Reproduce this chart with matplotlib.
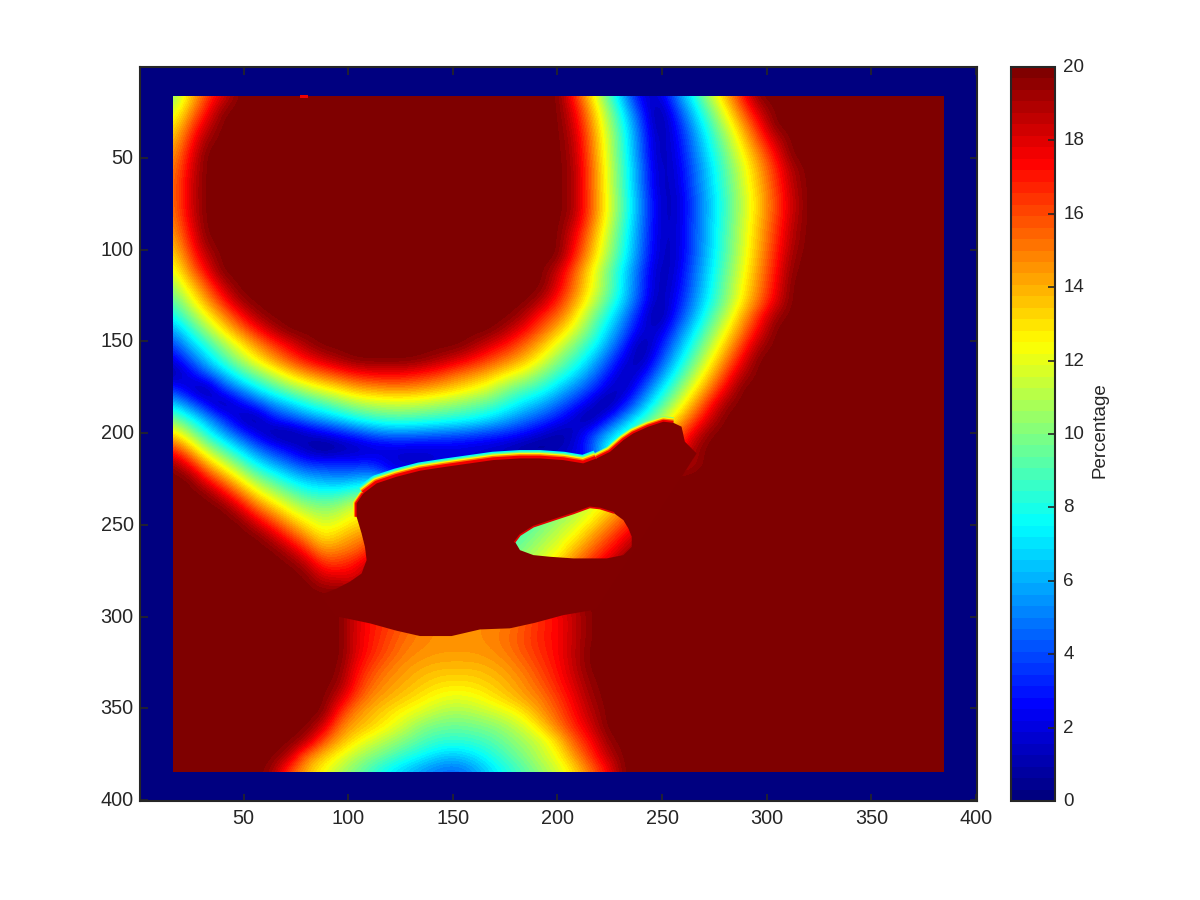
import matplotlib
matplotlib.use("Agg")
import matplotlib.pyplot as plt
from matplotlib.colors import LinearSegmentedColormap, Normalize
from matplotlib.patches import Rectangle
from matplotlib.transforms import ScaledTranslation
import numpy as np

plt.rcParams["font.family"] = ["Liberation Sans", "DejaVu Sans"]

# percentages, one row every 8 units from y=16 to y=384,
# columns every 8 units from x=16, rows are dark red (20) after their last entry
grid_step = 8
grid_first = 16
grid_last = 384
field_rows = [
    [10, 13, 16, 18] + [20] * 20 + [16.7, 13, 9.3, 5.6, 1.9, 1.5, 4.6, 7.7, 10.8, 13.8, 16.9],
    [11.2, 14.2, 16.9, 19.6] + [20] * 20 + [17.7, 14.1, 10.5, 6.8, 3.2, .4, 3.4, 6.4, 9.4, 12.5, 15.5, 18.5],
    [12.5, 15.4, 18.2] + [20] * 21 + [18.2, 14.7, 11.1, 7.6, 4, .4, 2.5, 5.5, 8.4, 11.3, 14.2, 17.1],
    [13.5, 16.4, 19.3] + [20] * 21 + [18.7, 15.1, 11.6, 8, 4.4, .9, 2.1, 4.8, 7.6, 10.3, 13.1, 15.9, 18.6],
    [14.2, 17.2] + [20] * 22 + [18.9, 15.3, 11.7, 8.1, 4.5, .9, 1.9, 4.5, 7.1, 9.7, 12.3, 14.8, 17.4],
    [14.7, 17.7] + [20] * 22 + [19.1, 15.6, 12, 8.4, 4.9, 1.3, 1.6, 4.1, 6.6, 9.1, 11.6, 14.1, 16.6, 19.1],
    [15, 18] + [20] * 22 + [19.1, 15.6, 12, 8.4, 4.9, 1.3, 1.5, 4, 6.5, 8.9, 11.4, 13.8, 16.3, 18.8],
    [15, 18] + [20] * 22 + [19.1, 15.7, 12.2, 8.7, 5.2, 1.7, 1.2, 3.7, 6.2, 8.6, 11.1, 13.5, 16, 18.5],
    [14.8, 17.9] + [20] * 22 + [19.1, 15.7, 12.2, 8.7, 5.2, 1.7, 1.2, 3.7, 6.2, 8.6, 11.1, 13.5, 16, 18.5],
    [14.4, 17.3] + [20] * 22 + [18.3, 15, 11.7, 8.3, 5, 1.7, 1.3, 3.8, 6.3, 8.8, 11.3, 13.8, 16.3, 18.8],
    [13.7, 16.6, 19.6] + [20] * 21 + [17.6, 14.4, 11.2, 8, 4.8, 1.6, 1.3, 3.8, 6.3, 8.9, 11.4, 13.9, 16.5, 19],
    [12.8, 15.7, 18.6] + [20] * 21 + [16.9, 13.8, 10.8, 7.7, 4.6, 1.5, 1.3, 3.9, 6.5, 9, 11.6, 14.2, 16.8, 19.4],
    [11.7, 14.6, 17.3] + [20] * 20 + [18.5, 15.6, 12.7, 9.8, 6.9, 4, 1.1, 1.6, 4.2, 6.8, 9.4, 11.9, 14.5, 17.1, 19.7],
    [10.4, 13.1, 15.5, 18.5] + [20] * 19 + [18, 15.2, 12.6, 10, 6.9, 3.9, 1, 1.9, 4.5, 7.1, 9.7, 12.3, 14.8, 17.4],
    [8.9, 11.6, 14.2, 16.6, 19.3] + [20] * 17 + [19, 16.8, 14.4, 11.8, 9.2, 6.5, 3.6, .8, 2.3, 4.9, 7.5, 10, 12.7, 15.2, 17.8],
    [7.6, 9.8, 12.3, 14.6, 16.9, 19.2] + [20] * 15 + [19, 17, 15.5, 13.2, 10.3, 8, 5.3, 2.5, .3, 2.9, 5.6, 8.4, 11, 13.9, 16.6, 19.3],
    [5.5, 7.9, 10.4, 12.7, 14.8, 16.9, 18.8] + [20] * 13 + [18.8, 17.4, 15.6, 13.8, 11.8, 9.5, 6.8, 4.5, 1.8, 1.4, 4.1, 6.8, 9.5, 12.2, 14.9, 17.6],
    [3.6, 6.2, 8.1, 10.4, 12.5, 14.4, 16.2, 17.7, 19.2] + [20] * 9 + [19.3, 18, 17, 15.4, 13.9, 12, 10, 8.2, 5.8, 3.3, .5, 2.4, 5.2, 7.9, 10.7, 13.4, 16.2, 19],
    [1.8, 4.1, 6.5, 8.6, 10.7, 12.6, 14.3, 15.9, 17.3, 18.4, 19.3, 20, 20, 20, 20, 19.7, 19, 18.2, 17.2, 16.1, 15, 13.9, 12.3, 10.3, 8.8, 6.6, 4.4, 2, .7, 3.5, 6.3, 9.1, 11.9, 14.7, 17.5],
    [.5, 2, 4.1, 6.1, 8.2, 9.8, 11.4, 13, 14.3, 15.3, 16.2, 17, 17.4, 17.5, 17.3, 16.8, 16.2, 15.2, 14.6, 13.7, 12.6, 11.6, 10.1, 8.7, 7, 5.2, 3.1, 1, 2.1, 4.9, 7.7, 10.5, 13.3, 16.1, 18.9],
    [3.6, 1.6, .3, 3.5, 5.3, 7.1, 8.6, 10, 11.2, 12.2, 13, 14, 14.3, 14.6, 14.6, 14.3, 13.8, 13.2, 12.4, 11.5, 10, 9.1, 8.3, 6.6, 5.2, 3.7, 1.7, 1, 3.8, 6.6, 9.3, 12.1, 14.8, 17.6],
    [6.8, 4.8, 2.6, .4, 2.2, 3.8, 5.5, 6.6, 8, 8.9, 10, 10.8, 11.3, 11.5, 11.5, 11.2, 10.8, 10.3, 9.8, 9.2, 8.2, 7, 6, 4.8, 3.4, 1.8, .2, 2.8, 5.5, 8.3, 11, 13.8, 16.6, 19.3],
    [10, 8, 5.8, 3.6, 1.2, .5, 2.9, 4, 5.1, 6, 6.9, 8, 8.6, 9, 9, 8.8, 8.5, 8.2, 7.8, 7, 6, 5, 4.1, 3, 1.5, .3, 2.9, 5.4, 7.9, 10.5, 13, 15.5, 18.1],
    [13.2, 10.8, 8.1, 5.9, 3.9, 2, .6, .3, 1.4, 2.2, 3, 3.8, 4.8, 5.2, 5.2, 5, 4.8, 4.6, 4.2, 3.8, 3.4, 2.7, 1.8, .8, 1.3, 3.5, 5.8, 8.1, 10.4, 12.8, 15.1, 17.4, 19.7],
    [16.4, 13.9, 11, 8.8, 6.7, 4.7, 3.2, 2.1, 1, 0, .6, 1, 1.5, 1.8, 1.8, 1.8, 1.8, 1.8, 1.6, 1.4, 1, .5, .3, 1, 1.8, 4, 8, 10, 12, 14, 16, 19],
    [19.6, 17, 14, 11.7, 9.5, 7.3, 5.7, 4.5, 3.2, 3.2, 3, 3, 3, 2, 1.5, 1.5, 2, 2, 2, 2, 2, 2, 2, 2, 2, 3, 8, 12, 14, 16, 18, 19],
    [20, 20, 16.9, 14.6, 12.3, 10, 8.5, 7, 6, 5.5, 5.2, 5.5, 6] + [3] * 12 + [5, 10],
    [20, 20, 19.8, 17.5, 15.1, 12.7, 11, 9.5, 8.2, 8, 8, 9, 9],
    [20, 20, 20, 20, 17.9, 15.3, 13.5, 11.8, 10.6, 10, 10.5, 12, 12],
    [20] * 5 + [18, 16, 14, 12.5, 11.5, 12, 13, 13],
    [20] * 6 + [18.5, 16.4, 14.5, 12.7, 13.5, 14.5, 15],
    [20] * 7 + [18.8, 16.8, 14.5, 15, 15.5, 17],
    [20] * 8 + [19, 16.7, 16.5, 17.5, 19],
    [20] * 9 + [18.5, 18.5, 18],
    [],
    [20] * 11 + [18, 17, 16.3, 15.5, 14.9, 14.6, 14.6, 14.6, 14.8, 15, 15.8, 16.7, 17.4, 18.6, 19.8],
    [20] * 11 + [18, 17, 16.3, 15.5, 14.9, 14.6, 14.6, 14.6, 14.8, 15, 15.8, 16.7, 17.4, 18.6, 19.8],
    [20] * 11 + [18, 16.9, 16, 15.2, 14.8, 14.6, 14.6, 14.6, 14.8, 15.3, 16, 16.8, 17.4, 18.6, 19.8],
    [20] * 11 + [18, 16.7, 15.7, 14.9, 14.6, 14.4, 14.4, 14.4, 14.6, 15, 15.8, 16.6, 17.4, 18.7, 20],
    [20] * 10 + [19.8, 17.4, 16, 15, 14.4, 14, 13.8, 13.8, 13.8, 14, 14.5, 15.2, 16.2, 17.2, 18.6, 19.9],
    [20] * 10 + [19.5, 16.9, 15.3, 14.5, 14, 13.5, 13.1, 13, 13.1, 13.5, 14, 14.7, 15.7, 16.9, 18.2, 19.6],
    [20] * 10 + [18.4, 16, 14.6, 14, 13.4, 12.8, 12.2, 12, 12.2, 12.8, 13.5, 14.3, 15, 16.3, 17.7, 19.3],
    [20] * 10 + [16.6, 14.6, 13.8, 13, 12.3, 11.7, 11, 10.7, 11, 11.5, 12, 13, 14.4, 15.7, 17.3, 18.8],
    [20] * 9 + [18.3, 15, 14, 13.2, 12.3, 11.2, 10, 9.6, 9.5, 9.7, 10, 10.7, 11.6, 13.2, 15, 16.7, 18.3],
    [20] * 8 + [18.9, 15.7, 14, 12.6, 11.5, 10.6, 9.8, 9, 8.4, 8.3, 8.5, 9, 9.8, 10.7, 11.4, 13.2, 15.6, 17.2, 19.5],
    [20] * 7 + [18.8, 15, 13.6, 12.2, 11, 10, 9.2, 8.2, 7.4, 6.6, 6.4, 7, 8, 9, 10, 11.3, 12.3, 14.5, 16.5, 18.6],
    [20] * 6 + [19.3, 16, 13.9, 12.3, 10.9, 9.7, 8.4, 7.2, 6.3, 5.4, 4.7, 4.5, 5.4, 6.8, 8, 9.1, 10.3, 11.5, 13, 15.2, 17.3],
]

# outline of the dark red land, upper shore from the notch round to the left
coast_x = [266.5, 260.9, 259.3, 255.4, 250.6, 243.4, 236.2, 231.5, 225.1, 218.7, 212.3, 202.8, 191.6, 182.1, 169.3,
           158.2, 147, 134.3, 123.1, 113.6, 107.2, 104, 104, 106.4, 108, 108.8, 106.4, 100.8, 94.5, 86.5]
coast_y = [211.1, 204.7, 196.5, 194.4, 193.8, 196.5, 200.2, 203.8, 210.2, 213.8, 216.5, 214.7, 213.8, 213.8, 214.7,
           216.5, 218.3, 220.5, 223.8, 227.4, 232.9, 238.3, 245.6, 254.7, 262, 269.2, 276.5, 281, 284.7, 288.3]
# lower shore, left to right
shore_x = [93.7, 110.4, 123.1, 134.3, 149.4, 163, 177.3, 189.2, 202.8, 218.7]
shore_y = [299.7, 303.7, 307.7, 310.6, 310.6, 307, 306.4, 303.4, 299.2, 296.1]

# the lens inside the land
lens_x = [179.7, 182.1, 188.5, 198, 207.6, 215.5, 220.3, 226.7, 231.5, 233.9, 235.5, 235.5, 231.5, 223.5, 207.6, 196.4, 188.5, 182.1]
lens_y = [259.2, 255.6, 251, 247.4, 243.8, 240.5, 241.1, 243.4, 247.4, 252, 256.5, 262, 266.5, 268.3, 268.3, 267.4, 266.5, 263.8]
lens_columns = [176, 184, 192, 200, 208, 216, 224, 232, 240]
lens_lines = [240, 248, 256, 264, 272]
lens_values = [
    [6.8, 7.7, 8.7, 9.7, 10.7, 11.7, 13, 14.7, 16.3],
    [7.6, 8.6, 9.6, 10.5, 11.5, 12.8, 14.4, 16, 17.6],
    [8.4, 9.4, 10.4, 11.4, 12.6, 14.2, 15.8, 17.4, 19],
    [9.2, 10.2, 11.2, 12.3, 13.9, 15.5, 17.1, 18.7, 20],
    [10, 11, 12, 13.6, 15.3, 16.9, 18.5, 20, 20],
]

# rim colours along the shore, outermost first
rim_values = [7.5, 9.5, 12.5, 15, 17.5]
rim_widths = [12, 10, 8, 6, 4]
thin_rim_values = [10, 12.5, 15, 17.5]
thin_rim_widths = [8, 6.5, 4.6, 2.8]
west_rim_values = [12.5, 15, 17.5]
west_rim_widths = [5, 3.6, 2.2]

# little red speck at the top edge
speck_x = [77, 81]
speck_y = [16, 17.2]
speck_value = 17.5

x_ticks = [50, 100, 150, 200, 250, 300, 350, 400]
y_ticks = [50, 100, 150, 200, 250, 300, 350, 400]
bar_ticks = [0, 2, 4, 6, 8, 10, 12, 14, 16, 18, 20]

# jet as MATLAB builds it, 64 steps
jet_stops = [0, 1 / 8, 3 / 8, 5 / 8, 7 / 8, 1]
jet_colors = [(0, 0, .5), (0, 0, 1), (0, 1, 1), (1, 1, 0), (1, 0, 0), (.5, 0, 0)]

ink = "#262626"
cmap = LinearSegmentedColormap.from_list("matlab_jet", list(zip(jet_stops, jet_colors)), N=64)
norm = Normalize(0, 20)

n_cols = (grid_last - grid_first) // grid_step + 1
field = np.array([r + [20] * (n_cols - len(r)) for r in field_rows], dtype=float)
half = grid_step / 2

fig = plt.figure(figsize=(12, 9), dpi=100)
ax = fig.add_axes([140 / 1200, 1 - 801 / 900, (977 - 140) / 1200, (801 - 67) / 900])
cax = fig.add_axes([1011 / 1200, 1 - 801 / 900, (1055 - 1011) / 1200, (801 - 67) / 900])

# outer frame of the domain is all zero
ax.set_facecolor(cmap(0))
im = ax.imshow(field, cmap=cmap, norm=norm, interpolation="bicubic", interpolation_stage="data", aspect="auto",
               extent=[grid_first - half, grid_last + half, grid_last + half, grid_first - half], zorder=1)
im.set_clip_path(Rectangle((16.4, 16.4), 368.1, 368.1, transform=ax.transData))

# coloured rim on the shore
for v, w in zip(rim_values, rim_widths):
    ax.plot(coast_x[9:21], coast_y[9:21], color=cmap(norm(v)), lw=w, solid_capstyle="butt", zorder=2)
for v, w in zip(thin_rim_values, thin_rim_widths):
    ax.plot(coast_x[3:10], coast_y[3:10], color=cmap(norm(v)), lw=w, solid_capstyle="butt", zorder=2)
for v, w in zip(west_rim_values, west_rim_widths):
    ax.plot(coast_x[20:23], coast_y[20:23], color=cmap(norm(v)), lw=w, solid_capstyle="butt", zorder=2)

ax.fill(coast_x + shore_x, coast_y + shore_y, color=cmap(norm(20)), lw=0, zorder=3)

# lens
lens_step = lens_columns[1] - lens_columns[0]
lens_im = ax.imshow(lens_values, cmap=cmap, norm=norm, interpolation="bilinear", interpolation_stage="data", aspect="auto",
                    extent=[lens_columns[0] - lens_step / 2, lens_columns[-1] + lens_step / 2,
                            lens_lines[-1] + lens_step / 2, lens_lines[0] - lens_step / 2], zorder=4)
lens_patch = ax.fill(lens_x, lens_y, facecolor="none", edgecolor="none", zorder=4)[0]
lens_im.set_clip_path(lens_patch)
ax.plot(lens_x[:8], lens_y[:8], color=cmap(norm(18)), lw=1.2, zorder=5)

ax.fill([speck_x[0], speck_x[1], speck_x[1], speck_x[0]], [speck_y[0], speck_y[0], speck_y[1], speck_y[1]],
        color=cmap(norm(speck_value)), lw=0, zorder=5)

ax.set_xlim(0.5, 400.5)
ax.set_ylim(400.5, 0.5)
ax.set_xticks(x_ticks)
ax.set_yticks(y_ticks)
ax.tick_params(direction="in", top=True, right=True, length=5.4, width=1.2, color=ink, labelcolor=ink, labelsize=14.3)
ax.tick_params(axis="x", pad=6)
ax.tick_params(axis="y", pad=4.5)
for s in ax.spines.values():
    s.set_linewidth(1.5)
    s.set_color(ink)
    s.set_zorder(10)

cbar = fig.colorbar(im, cax=cax, ticks=bar_ticks)
cbar.set_label("Percentage", fontsize=13.5, color=ink, labelpad=5, y=0.505)
cbar.ax.tick_params(direction="in", length=5, width=1.2, color=ink, labelcolor=ink, labelsize=13.5, pad=6)
cbar.outline.set_linewidth(1.5)
cbar.outline.set_edgecolor(ink)

# labels sit a touch above their ticks in the original
nudge = ScaledTranslation(0, 1.5 / 100, fig.dpi_scale_trans)
for lab in ax.get_yticklabels() + cbar.ax.get_yticklabels():
    lab.set_transform(lab.get_transform() + nudge)

fig.savefig("out.png", dpi=100)
